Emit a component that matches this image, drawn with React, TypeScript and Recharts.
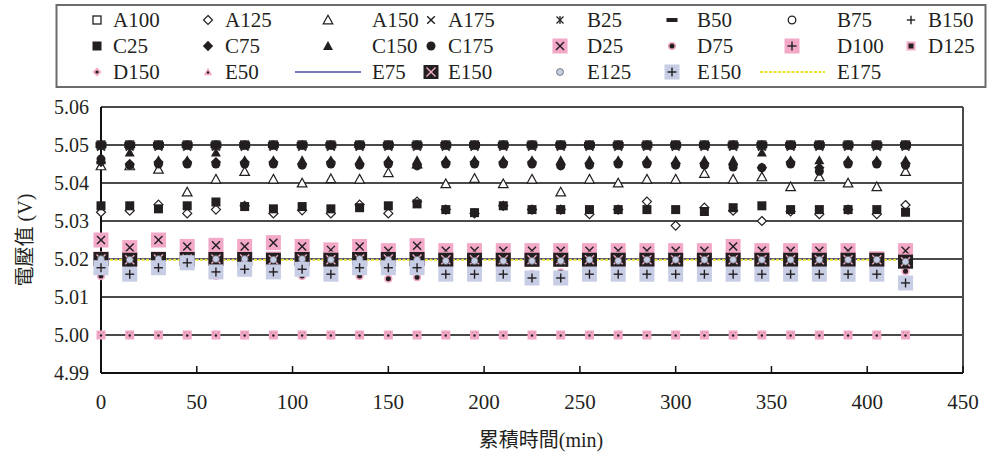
import React from 'react';
import { ComposedChart, Line, XAxis, YAxis, CartesianGrid, ReferenceLine } from 'recharts';

const times = [0, 15, 30, 45, 60, 75, 90, 105, 120, 135, 150, 165, 180, 195, 210, 225, 240, 255, 270, 285, 300, 315, 330, 345, 360, 375, 390, 405, 420];

const xTicks = [0, 50, 100, 150, 200, 250, 300, 350, 400, 450];
const yTicks = [4.99, 5.0, 5.01, 5.02, 5.03, 5.04, 5.05, 5.06];

const A100 = [5.05, 5.05, 5.05, 5.05, 5.05, 5.05, 5.05, 5.05, 5.05, 5.05, 5.05, 5.05, 5.05, 5.05, 5.05, 5.05, 5.05, 5.05, 5.05, 5.05, 5.05, 5.05, 5.05, 5.05, 5.05, 5.05, 5.05, 5.05, 5.05];
const A125 = [5.0323, 5.0327, 5.0343, 5.032, 5.033, 5.034, 5.032, 5.0328, 5.032, 5.0343, 5.032, 5.0351, 5.033, 5.032, 5.034, 5.033, 5.033, 5.0318, 5.033, 5.0351, 5.0288, 5.0335, 5.0327, 5.03, 5.0325, 5.0318, 5.033, 5.0318, 5.0342];
const A150 = [5.0445, 5.0445, 5.0436, 5.0376, 5.041, 5.043, 5.041, 5.04, 5.0411, 5.041, 5.0427, 5.045, 5.0398, 5.0412, 5.0398, 5.041, 5.0376, 5.041, 5.04, 5.041, 5.041, 5.0425, 5.041, 5.0416, 5.039, 5.0416, 5.04, 5.039, 5.043];
const A175 = [5.0495, 5.0495, 5.0495, 5.0495, 5.0495, 5.0495, 5.0495, 5.0495, 5.0495, 5.0495, 5.0495, 5.0495, 5.0495, 5.0495, 5.0495, 5.0495, 5.0495, 5.0495, 5.0495, 5.0495, 5.0495, 5.0495, 5.0495, 5.0495, 5.0495, 5.0495, 5.0495, 5.0495, 5.0495];
const B25 = [5.05, 5.05, 5.05, 5.05, 5.05, 5.05, 5.05, 5.05, 5.05, 5.05, 5.05, 5.05, 5.05, 5.05, 5.05, 5.05, 5.05, 5.05, 5.05, 5.05, 5.05, 5.05, 5.05, 5.05, 5.05, 5.05, 5.05, 5.05, 5.05];
const B50 = [5.05, 5.05, 5.05, 5.05, 5.05, 5.05, 5.05, 5.05, 5.05, 5.05, 5.05, 5.05, 5.05, 5.05, 5.05, 5.05, 5.05, 5.05, 5.05, 5.05, 5.05, 5.05, 5.05, 5.05, 5.05, 5.05, 5.05, 5.05, 5.05];
const B75 = [5.05, 5.05, 5.05, 5.05, 5.05, 5.05, 5.05, 5.05, 5.05, 5.05, 5.05, 5.05, 5.05, 5.05, 5.05, 5.05, 5.05, 5.05, 5.05, 5.05, 5.05, 5.05, 5.05, 5.05, 5.05, 5.05, 5.05, 5.05, 5.05];
const B150 = [5.05, 5.05, 5.05, 5.05, 5.05, 5.05, 5.05, 5.05, 5.05, 5.05, 5.05, 5.05, 5.05, 5.05, 5.05, 5.05, 5.05, 5.05, 5.05, 5.05, 5.05, 5.05, 5.05, 5.05, 5.05, 5.05, 5.05, 5.05, 5.05];
const C25 = [5.034, 5.034, 5.0332, 5.034, 5.035, 5.0338, 5.0332, 5.0338, 5.0332, 5.0335, 5.034, 5.0345, 5.033, 5.0322, 5.034, 5.033, 5.033, 5.033, 5.033, 5.033, 5.033, 5.0325, 5.0335, 5.034, 5.033, 5.033, 5.033, 5.033, 5.0323];
const C75 = [5.0455, 5.045, 5.0455, 5.0455, 5.0455, 5.0455, 5.0455, 5.045, 5.0455, 5.045, 5.0455, 5.0448, 5.0455, 5.0455, 5.0455, 5.0455, 5.0448, 5.0452, 5.0455, 5.0455, 5.0452, 5.0452, 5.0448, 5.044, 5.0455, 5.044, 5.0455, 5.0455, 5.0452];
const C150 = [5.046, 5.048, 5.046, 5.046, 5.048, 5.046, 5.046, 5.046, 5.046, 5.046, 5.046, 5.046, 5.046, 5.046, 5.046, 5.046, 5.046, 5.046, 5.046, 5.046, 5.046, 5.046, 5.046, 5.048, 5.046, 5.046, 5.046, 5.046, 5.046];
const C175 = [5.0463, 5.0447, 5.045, 5.045, 5.045, 5.045, 5.045, 5.0447, 5.045, 5.0447, 5.045, 5.0445, 5.045, 5.045, 5.045, 5.045, 5.0445, 5.0447, 5.045, 5.045, 5.0447, 5.0447, 5.0442, 5.044, 5.045, 5.0431, 5.045, 5.045, 5.0447];
const D25 = [5.025, 5.023, 5.025, 5.0233, 5.0236, 5.0233, 5.0243, 5.0233, 5.0224, 5.0233, 5.0222, 5.0235, 5.0222, 5.0222, 5.0222, 5.0222, 5.0222, 5.0222, 5.0222, 5.0222, 5.0222, 5.0222, 5.0233, 5.0222, 5.0222, 5.0222, 5.0222, 5.02, 5.0222];
const D75 = [5.0155, 5.018, 5.018, 5.0185, 5.0155, 5.017, 5.018, 5.0155, 5.0175, 5.0155, 5.0148, 5.0152, 5.017, 5.017, 5.017, 5.016, 5.0165, 5.0155, 5.017, 5.017, 5.017, 5.017, 5.0155, 5.017, 5.017, 5.017, 5.017, 5.017, 5.0168];
const D100 = [5.02, 5.02, 5.02, 5.02, 5.02, 5.02, 5.02, 5.02, 5.02, 5.02, 5.02, 5.02, 5.02, 5.02, 5.02, 5.02, 5.02, 5.02, 5.02, 5.02, 5.02, 5.02, 5.02, 5.02, 5.02, 5.02, 5.02, 5.02, 5.0195];
const D125 = [5.0, 5.0, 5.0, 5.0, 5.0, 5.0, 5.0, 5.0, 5.0, 5.0, 5.0, 5.0, 5.0, 5.0, 5.0, 5.0, 5.0, 5.0, 5.0, 5.0, 5.0, 5.0, 5.0, 5.0, 5.0, 5.0, 5.0, 5.0, 5.0];
const D150 = [5.0, 5.0, 5.0, 5.0, 5.0, 5.0, 5.0, 5.0, 5.0, 5.0, 5.0, 5.0, 5.0, 5.0, 5.0, 5.0, 5.0, 5.0, 5.0, 5.0, 5.0, 5.0, 5.0, 5.0, 5.0, 5.0, 5.0, 5.0, 5.0];
const E50 = [5.0, 5.0, 5.0, 5.0, 5.0, 5.0, 5.0, 5.0, 5.0, 5.0, 5.0, 5.0, 5.0, 5.0, 5.0, 5.0, 5.0, 5.0, 5.0, 5.0, 5.0, 5.0, 5.0, 5.0, 5.0, 5.0, 5.0, 5.0, 5.0];
const E75 = [5.02, 5.02, 5.02, 5.02, 5.02, 5.02, 5.02, 5.02, 5.02, 5.02, 5.02, 5.02, 5.02, 5.02, 5.02, 5.02, 5.02, 5.02, 5.02, 5.02, 5.02, 5.02, 5.02, 5.02, 5.02, 5.02, 5.02, 5.02, 5.02];
const E150a = [5.02, 5.0198, 5.02, 5.02, 5.02, 5.02, 5.0198, 5.02, 5.0198, 5.02, 5.02, 5.02, 5.0198, 5.0198, 5.0198, 5.0198, 5.0198, 5.0198, 5.0198, 5.0198, 5.0198, 5.0198, 5.0198, 5.0198, 5.0198, 5.0198, 5.0198, 5.0198, 5.0193];
const E125 = [5.02, 5.0198, 5.02, 5.0202, 5.02, 5.02, 5.0198, 5.02, 5.0198, 5.02, 5.0198, 5.0198, 5.0195, 5.0195, 5.0195, 5.0195, 5.0195, 5.0198, 5.0195, 5.0198, 5.0198, 5.0198, 5.0198, 5.0198, 5.0198, 5.0198, 5.0198, 5.0198, 5.0193];
const E150b = [5.0177, 5.016, 5.0177, 5.019, 5.0166, 5.0173, 5.0166, 5.0173, 5.016, 5.0177, 5.0177, 5.0177, 5.016, 5.016, 5.016, 5.015, 5.015, 5.016, 5.016, 5.016, 5.016, 5.016, 5.016, 5.016, 5.016, 5.016, 5.016, 5.016, 5.0137];
const E175 = [5.0198, 5.0198, 5.0198, 5.0198, 5.0198, 5.0198, 5.0198, 5.0198, 5.0198, 5.0198, 5.0198, 5.0198, 5.0198, 5.0198, 5.0198, 5.0198, 5.0198, 5.0198, 5.0198, 5.0198, 5.0198, 5.0198, 5.0198, 5.0198, 5.0198, 5.0198, 5.0198, 5.0198, 5.0198];

const PINK = '#f2a8c6';
const LAV = '#c8cde6';
const K = '#231f20';
const BLUE = '#4b4ba3';
const YEL = '#e8e22a';
const GRID = '#4a4a4a';
const SERIF = '"Liberation Serif", "Times New Roman", serif';
const CJK = '"Liberation Serif", "Noto Sans CJK TC", serif';

type S = { key: string; name: string; kind: string; values: number[] };
const SERIES: S[] = [
  { key: 'A100', name: 'A100', kind: 'sqOpen', values: A100 },
  { key: 'A125', name: 'A125', kind: 'diaOpen', values: A125 },
  { key: 'A150', name: 'A150', kind: 'triOpen', values: A150 },
  { key: 'A175', name: 'A175', kind: 'x', values: A175 },
  { key: 'B25', name: 'B25', kind: 'star', values: B25 },
  { key: 'B50', name: 'B50', kind: 'dash', values: B50 },
  { key: 'B75', name: 'B75', kind: 'circOpen', values: B75 },
  { key: 'B150', name: 'B150', kind: 'plus', values: B150 },
  { key: 'C25', name: 'C25', kind: 'sqFill', values: C25 },
  { key: 'C75', name: 'C75', kind: 'diaFill', values: C75 },
  { key: 'C150', name: 'C150', kind: 'triFill', values: C150 },
  { key: 'C175', name: 'C175', kind: 'circFill', values: C175 },
  { key: 'D25', name: 'D25', kind: 'pinkX', values: D25 },
  { key: 'D75', name: 'D75', kind: 'dotPink', values: D75 },
  { key: 'D100', name: 'D100', kind: 'pinkPlus', values: D100 },
  { key: 'D125', name: 'D125', kind: 'sqPinkBorder', values: D125 },
  { key: 'D150', name: 'D150', kind: 'diaPink', values: D150 },
  { key: 'E50', name: 'E50', kind: 'triPink', values: E50 },
  { key: 'E75', name: 'E75', kind: 'lineBlue', values: E75 },
  { key: 'E150a', name: 'E150', kind: 'blackPinkX', values: E150a },
  { key: 'E125', name: 'E125', kind: 'circLav', values: E125 },
  { key: 'E150b', name: 'E150', kind: 'lavPlus', values: E150b },
  { key: 'E175', name: 'E175', kind: 'lineYellow', values: E175 },
];

const rows = times.map((t, i) => {
  const r: Record<string, number> = { t };
  SERIES.forEach((s) => {
    r[s.key] = s.values[i];
  });
  return r;
});

function Cross({ cx, cy, h, color, w }: { cx: number; cy: number; h: number; color: string; w: number }) {
  return (
    <g stroke={color} strokeWidth={w}>
      <line x1={cx - h} y1={cy - h} x2={cx + h} y2={cy + h} />
      <line x1={cx - h} y1={cy + h} x2={cx + h} y2={cy - h} />
    </g>
  );
}
function Plus({ cx, cy, h, color, w }: { cx: number; cy: number; h: number; color: string; w: number }) {
  return (
    <g stroke={color} strokeWidth={w}>
      <line x1={cx - h} y1={cy} x2={cx + h} y2={cy} />
      <line x1={cx} y1={cy - h} x2={cx} y2={cy + h} />
    </g>
  );
}
const tri = (cx: number, cy: number, h: number) =>
  `${cx},${cy - h} ${cx + h},${cy + h * 0.8} ${cx - h},${cy + h * 0.8}`;
const dia = (cx: number, cy: number, h: number) => `${cx},${cy - h} ${cx + h},${cy} ${cx},${cy + h} ${cx - h},${cy}`;

function Marker({ kind, cx, cy, inLegend }: { kind: string; cx: number; cy: number; inLegend?: boolean }) {
  if (cx == null || cy == null || isNaN(cx) || isNaN(cy)) return <g />;
  const openFill = inLegend ? '#fff' : 'none';
  switch (kind) {
    case 'sqOpen':
      return <rect x={cx - 4} y={cy - 4} width={8} height={8} fill={openFill} stroke={K} strokeWidth={1.3} />;
    case 'diaOpen':
      return <polygon points={dia(cx, cy, 4.5)} fill="#fff" stroke={K} strokeWidth={1.2} />;
    case 'triOpen':
      return <polygon points={tri(cx, cy, 4.8)} fill="#fff" stroke={K} strokeWidth={1.2} />;
    case 'x':
      return <Cross cx={cx} cy={cy} h={3.8} color={K} w={1.4} />;
    case 'star':
      return (
        <g>
          <Cross cx={cx} cy={cy} h={3.5} color={K} w={1.3} />
          <line x1={cx} y1={cy - 4} x2={cx} y2={cy + 4} stroke={K} strokeWidth={1.3} />
        </g>
      );
    case 'dash':
      return inLegend ? (
        <rect x={cx - 5.5} y={cy - 2} width={11} height={4} fill={K} />
      ) : (
        <rect x={cx - 5.5} y={cy - 3} width={11} height={6} fill={K} />
      );
    case 'circOpen':
      return <circle cx={cx} cy={cy} r={3.8} fill={openFill} stroke={K} strokeWidth={1.3} />;
    case 'plus':
      return <Plus cx={cx} cy={cy} h={4.2} color={K} w={1.4} />;
    case 'sqFill':
      return <rect x={cx - 4.5} y={cy - 4.5} width={9} height={9} fill={K} />;
    case 'diaFill':
      return <polygon points={dia(cx, cy, 5.2)} fill={K} />;
    case 'triFill':
      return <polygon points={tri(cx, cy, 5)} fill={K} />;
    case 'circFill':
      return <circle cx={cx} cy={cy} r={4.5} fill={K} />;
    case 'pinkX':
      return (
        <g>
          <rect x={cx - 7.5} y={cy - 7.5} width={15} height={15} fill={PINK} />
          <Cross cx={cx} cy={cy} h={4} color={K} w={1.4} />
        </g>
      );
    case 'dotPink':
      return <circle cx={cx} cy={cy} r={3.3} fill={K} stroke={PINK} strokeWidth={1.6} />;
    case 'pinkPlus':
      return (
        <g>
          <rect x={cx - 7.5} y={cy - 7.5} width={15} height={15} fill={PINK} />
          <Plus cx={cx} cy={cy} h={4.5} color={K} w={1.4} />
        </g>
      );
    case 'sqPinkBorder':
      return <rect x={cx - 3.5} y={cy - 3.5} width={7} height={7} fill={K} stroke={PINK} strokeWidth={2} />;
    case 'diaPink':
      return (
        <g>
          <polygon points={dia(cx, cy, 4.5)} fill={PINK} />
          <circle cx={cx} cy={cy} r={1.6} fill={K} />
        </g>
      );
    case 'triPink':
      return (
        <g>
          <polygon points={tri(cx, cy, 4.2)} fill={PINK} />
          <circle cx={cx} cy={cy + 0.5} r={1.2} fill={K} />
        </g>
      );
    case 'blackPinkX':
      return (
        <g>
          <rect x={cx - 7.5} y={cy - 7} width={15} height={14} fill={K} />
          <Cross cx={cx} cy={cy} h={4.5} color={PINK} w={1.4} />
        </g>
      );
    case 'circLav':
      return <circle cx={cx} cy={cy} r={3.5} fill={LAV} stroke="#555" strokeWidth={0.7} />;
    case 'lavPlus':
      return (
        <g>
          <rect x={cx - 7.5} y={cy - 7.5} width={15} height={15} fill={LAV} />
          <Plus cx={cx} cy={cy} h={4.5} color={K} w={1.4} />
        </g>
      );
    default:
      return <g />;
  }
}

const LEG_MX = [97, 208, 328, 431, 560, 672, 792, 911];
const LEG_LX = [113, 225, 372, 448, 587, 697, 837, 928];
const LEG_LINE = [
  [295, 361],
  [760, 825],
];
const LEG_Y = [20, 46, 72];

function LegendOverlay() {
  return (
    <svg width={988} height={457} style={{ position: 'absolute', left: 0, top: 0, pointerEvents: 'none' }}>
      <rect x={56.5} y={5} width={929} height={82} fill="#fff" stroke="#6b6b6b" strokeWidth={2} />
      {SERIES.map((s, i) => {
        const col = i % 8;
        const row = Math.floor(i / 8);
        const y = LEG_Y[row];
        let mk: React.ReactNode;
        if (s.kind === 'lineBlue' || s.kind === 'lineYellow') {
          const seg = col === 2 ? LEG_LINE[0] : LEG_LINE[1];
          mk =
            s.kind === 'lineBlue' ? (
              <line x1={seg[0]} y1={y} x2={seg[1]} y2={y} stroke={BLUE} strokeWidth={1.6} />
            ) : (
              <line x1={seg[0]} y1={y} x2={seg[1]} y2={y} stroke={YEL} strokeWidth={2} strokeDasharray="3 1.5" />
            );
        } else {
          mk = <Marker kind={s.kind} cx={LEG_MX[col]} cy={y} inLegend />;
        }
        return (
          <g key={s.key}>
            {mk}
            <text x={LEG_LX[col]} y={y + 7} fontFamily={SERIF} fontSize={21} fill={K}>
              {s.name}
            </text>
          </g>
        );
      })}
      <text
        transform="translate(25,240) rotate(-90)"
        textAnchor="middle"
        dominantBaseline="central"
        fontFamily={CJK}
        fontSize={20}
        fill={K}
      >
        電壓值 (V)
      </text>
      <text x={541} y={440} textAnchor="middle" dominantBaseline="central" fontFamily={CJK} fontSize={20} fill={K}>
        累積時間(min)
      </text>
    </svg>
  );
}

export default function App() {
  return (
    <div style={{ position: 'absolute', left: 0, top: 0, width: 988, height: 457, background: '#fff' }}>
      <ComposedChart width={988} height={457} data={rows} margin={{ top: 107, right: 25, left: 0, bottom: 0 }}>
        <CartesianGrid vertical={false} stroke={GRID} strokeWidth={1.8} />
        <ReferenceLine x={450} stroke={GRID} strokeWidth={2} />
        <XAxis
          dataKey="t"
          type="number"
          domain={[0, 450]}
          ticks={xTicks}
          interval={0}
          height={84}
          tickSize={-7}
          tickMargin={28}
          axisLine={{ stroke: '#111', strokeWidth: 2 }}
          tickLine={{ stroke: '#111', strokeWidth: 1.5 }}
          tick={{ fill: K, fontSize: 21, fontFamily: SERIF }}
        />
        <YAxis
          type="number"
          domain={[4.99, 5.06]}
          ticks={yTicks}
          interval={0}
          width={101}
          tickSize={0}
          tickMargin={12}
          tickLine={false}
          axisLine={{ stroke: '#111', strokeWidth: 2 }}
          tick={{ fill: K, fontSize: 20, fontFamily: SERIF }}
          tickFormatter={(v: number) => v.toFixed(2)}
          allowDataOverflow
        />
        {SERIES.map((s) => {
          if (s.kind === 'lineBlue' || s.kind === 'lineYellow') {
            return (
              <Line
                key={s.key}
                dataKey={s.key}
                name={s.name}
                type="linear"
                stroke={s.kind === 'lineBlue' ? BLUE : YEL}
                strokeWidth={s.kind === 'lineBlue' ? 1.6 : 2}
                strokeDasharray={s.kind === 'lineYellow' ? '3 1.5' : undefined}
                dot={false}
                activeDot={false}
                isAnimationActive={false}
              />
            );
          }
          return (
            <Line
              key={s.key}
              dataKey={s.key}
              name={s.name}
              stroke="none"
              strokeWidth={0}
              activeDot={false}
              isAnimationActive={false}
              dot={(p: any) => <Marker key={`${s.key}-${p.index}`} kind={s.kind} cx={p.cx} cy={p.cy} />}
            />
          );
        })}
      </ComposedChart>
      <LegendOverlay />
    </div>
  );
}
